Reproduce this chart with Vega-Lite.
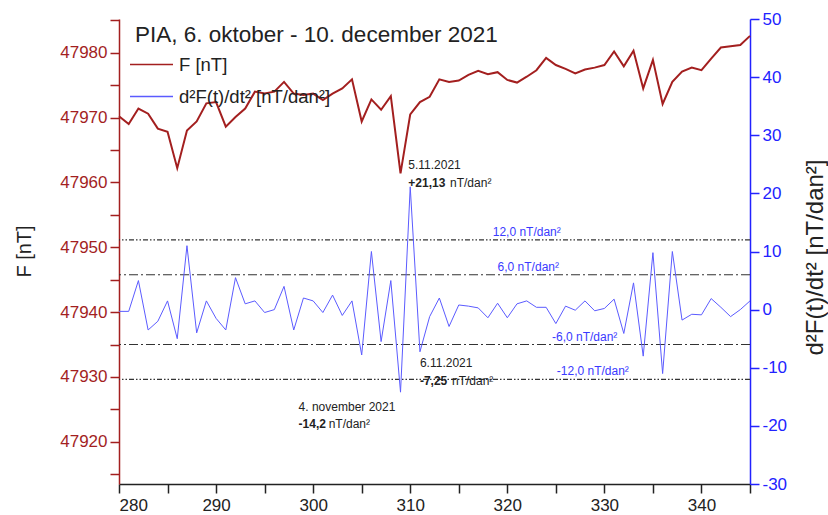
{
 "$schema": "https://vega.github.io/schema/vega-lite/v6.json",
 "width": 631, "height": 465,
 "autosize": {"type": "none"},
 "padding": {"left": 119, "top": 19, "right": 78, "bottom": 31},
 "background": "white",
 "config": {"font": "Liberation Sans", "view": {"stroke": null}, "axis": {"grid": false}},
 "title": {"text": "PIA, 6. oktober - 10. december 2021", "anchor": "start", "frame": "group", "orient": "top", "offset": 0, "dx": 16, "dy": 54, "baseline": "alphabetic", "fontSize": 22.5, "fontWeight": "normal", "color": "#222"},
 "datasets": {
  "d": [
   {"day":280,"F":47970.2,"d2":-0.3},{"day":281,"F":47969.0,"d2":-0.3},{"day":282,"F":47971.4,"d2":5},{"day":283,"F":47970.6,"d2":-3.5},
   {"day":284,"F":47968.3,"d2":-2},{"day":285,"F":47967.8,"d2":1.5},{"day":286,"F":47962.2,"d2":-5},{"day":287,"F":47968.0,"d2":11},
   {"day":288,"F":47969.4,"d2":-4},{"day":289,"F":47972.2,"d2":1.5},{"day":290,"F":47972.4,"d2":-1.5},{"day":291,"F":47968.6,"d2":-3.5},
   {"day":292,"F":47970.1,"d2":5.5},{"day":293,"F":47971.4,"d2":1},{"day":294,"F":47974.0,"d2":1.5},{"day":295,"F":47973.7,"d2":-0.5},
   {"day":296,"F":47974.0,"d2":0},{"day":297,"F":47975.5,"d2":4},{"day":298,"F":47973.7,"d2":-3.5},{"day":299,"F":47973.5,"d2":2},
   {"day":300,"F":47973.7,"d2":1.5},{"day":301,"F":47972.7,"d2":-0.5},{"day":302,"F":47973.7,"d2":2.5},{"day":303,"F":47974.5,"d2":-1},
   {"day":304,"F":47975.9,"d2":1.5},{"day":305,"F":47969.4,"d2":-7.8},{"day":306,"F":47972.8,"d2":10},{"day":307,"F":47971.2,"d2":-5.5},
   {"day":308,"F":47973.3,"d2":5},{"day":309,"F":47961.4,"d2":-14.2},{"day":310,"F":47970.5,"d2":21.13},{"day":311,"F":47972.4,"d2":-7.25},
   {"day":312,"F":47973.2,"d2":-1.2},{"day":313,"F":47975.9,"d2":2.0},{"day":314,"F":47975.5,"d2":-2.9},{"day":315,"F":47975.7,"d2":0.8},
   {"day":316,"F":47976.6,"d2":0.6},{"day":317,"F":47977.2,"d2":0.3},{"day":318,"F":47976.7,"d2":-1.4},{"day":319,"F":47977.0,"d2":1.1},
   {"day":320,"F":47975.8,"d2":-1.4},{"day":321,"F":47975.4,"d2":1.0},{"day":322,"F":47976.3,"d2":1.5},{"day":323,"F":47977.3,"d2":0.4},
   {"day":324,"F":47979.2,"d2":0.4},{"day":325,"F":47978.1,"d2":-2.4},{"day":326,"F":47977.5,"d2":0.6},{"day":327,"F":47976.8,"d2":-0.1},
   {"day":328,"F":47977.4,"d2":1.5},{"day":329,"F":47977.7,"d2":-0.2},{"day":330,"F":47978.1,"d2":0.2},{"day":331,"F":47980.2,"d2":1.8},
   {"day":332,"F":47977.9,"d2":-4.1},{"day":333,"F":47980.3,"d2":4.6},{"day":334,"F":47974.5,"d2":-8.0},{"day":335,"F":47978.9,"d2":9.8},
   {"day":336,"F":47972.1,"d2":-11},{"day":337,"F":47975.5,"d2":10.0},{"day":338,"F":47977.1,"d2":-1.8},{"day":339,"F":47977.7,"d2":-0.8},
   {"day":340,"F":47977.3,"d2":-0.9},{"day":341,"F":47979.1,"d2":1.9},{"day":342,"F":47980.8,"d2":0.4},{"day":343,"F":47981.0,"d2":-1.2},
   {"day":344,"F":47981.2,"d2":0},{"day":345,"F":47982.6,"d2":1.5}
  ],
  "thr": [
   {"v":12,"kind":"a","lx":318.5,"label":"12,0 nT/dan²"},
   {"v":6,"kind":"b","lx":319.0,"label":"6,0 nT/dan²"},
   {"v":-6,"kind":"b","lx":324.6,"label":"-6,0 nT/dan²"},
   {"v":-12,"kind":"a","lx":325.1,"label":"-12,0 nT/dan²"}
  ],
  "annB": [
   {"day":309.8,"v":21.8,"txt":"+21,13"},
   {"day":311.0,"v":-12.3,"txt":"-7,25"},
   {"day":298.5,"v":-19.6,"txt":"-14,2"}
  ],
  "annN": [
   {"day":309.8,"v":24.9,"txt":"5.11.2021"},
   {"day":314.1,"v":21.8,"txt":"nT/dan²"},
   {"day":311.0,"v":-9.2,"txt":"6.11.2021"},
   {"day":314.3,"v":-12.3,"txt":"nT/dan²"},
   {"day":298.5,"v":-16.8,"txt":"4. november 2021"},
   {"day":301.6,"v":-19.6,"txt":"nT/dan²"}
  ]
 },
 "layer": [
  {
   "data": {"name": "d"},
   "mark": {"type": "line", "strokeWidth": 2},
   "encoding": {
    "x": {"field": "day", "type": "quantitative", "scale": {"domain": [280, 345], "nice": false, "zero": false},
      "axis": {"title": null, "values": [280,285,290,295,300,305,310,315,320,325,330,335,340,345], "labelExpr": "datum.value % 10 === 0 ? '' + datum.value : ''", "domainColor": "#222", "tickColor": "#222", "labelColor": "#222", "labelFontSize": 17, "tickSize": 9, "labelPadding": 4, "domainWidth": 1.5, "tickWidth": 1.5}},
    "y": {"field": "F", "type": "quantitative", "scale": {"domain": [47913.5, 47985.2], "nice": false, "zero": false},
      "axis": {"orient": "left", "title": "F [nT]", "titleFontSize": 20, "titleFontWeight": "normal", "titleColor": "#222", "titleAngle": -90, "titleAlign": "center", "titleBaseline": "middle", "titleX": -95, "titleY": 232,
        "values": [47915,47920,47925,47930,47935,47940,47945,47950,47955,47960,47965,47970,47975,47980,47985], "labelExpr": "datum.value % 10 === 0 ? '' + datum.value : ''",
        "domainColor": "#a31f1f", "tickColor": "#a31f1f", "labelColor": "#a31f1f", "labelFontSize": 17, "tickSize": 9, "labelPadding": 3, "domainWidth": 1.5, "tickWidth": 1.5}},
    "color": {"datum": "F [nT]", "type": "nominal", "scale": {"domain": ["F [nT]", "d²F(t)/dt² [nT/dan²]"], "range": ["#a31f1f", "#5b5bff"]},
      "legend": {"orient": "none", "legendX": 10, "legendY": 23, "title": null, "symbolType": "stroke", "symbolSize": 1849, "symbolStrokeWidth": 1.5, "labelFontSize": 18.5, "labelColor": "#222", "labelOffset": 5, "padding": 0, "rowPadding": -10}}
   }
  },
  {
   "layer": [
    {
     "data": {"name": "thr"},
     "mark": {"type": "rule", "strokeWidth": 1.2},
     "encoding": {
      "y": {"field": "v", "type": "quantitative", "scale": {"domain": [-30, 50], "nice": false, "zero": false},
        "axis": {"orient": "right", "title": "d²F(t)/dt² [nT/dan²]", "titleFontSize": 24, "titleFontWeight": "normal", "titleColor": "#222", "titleAngle": -90, "titleAlign": "center", "titleBaseline": "middle", "titleX": 65, "titleY": 238,
          "values": [-30,-25,-20,-15,-10,-5,0,5,10,15,20,25,30,35,40,45,50], "labelExpr": "datum.value % 10 === 0 ? '' + datum.value : ''",
          "domainColor": "#2222ff", "tickColor": "#2222ff", "labelColor": "#2222ff", "labelFontSize": 17, "tickSize": 9, "labelPadding": 3, "domainWidth": 1.5, "tickWidth": 1.5}},
      "strokeDash": {"field": "kind", "type": "nominal", "scale": {"domain": ["a", "b"], "range": [[5,2,1.5,2,1.5,2],[9,3,2,3]]}, "legend": null},
      "color": {"value": "#333"}
     }
    },
    {
     "data": {"name": "d"},
     "mark": {"type": "line", "strokeWidth": 1},
     "encoding": {
      "x": {"field": "day", "type": "quantitative"},
      "y": {"field": "d2", "type": "quantitative"},
      "color": {"datum": "d²F(t)/dt² [nT/dan²]", "type": "nominal"}
     }
    },
    {
     "data": {"name": "thr"},
     "mark": {"type": "text", "align": "left", "baseline": "bottom", "dy": -1, "fontSize": 12, "color": "#3a3aff"},
     "encoding": {
      "x": {"field": "lx", "type": "quantitative"},
      "y": {"field": "v", "type": "quantitative"},
      "text": {"field": "label"}
     }
    },
    {
     "data": {"name": "annB"},
     "mark": {"type": "text", "align": "left", "baseline": "middle", "fontSize": 12, "fontWeight": "bold", "color": "#222"},
     "encoding": {
      "x": {"field": "day", "type": "quantitative"},
      "y": {"field": "v", "type": "quantitative"},
      "text": {"field": "txt"}
     }
    },
    {
     "data": {"name": "annN"},
     "mark": {"type": "text", "align": "left", "baseline": "middle", "fontSize": 12, "color": "#222"},
     "encoding": {
      "x": {"field": "day", "type": "quantitative"},
      "y": {"field": "v", "type": "quantitative"},
      "text": {"field": "txt"}
     }
    }
   ]
  }
 ],
 "resolve": {"scale": {"y": "independent"}}
}
